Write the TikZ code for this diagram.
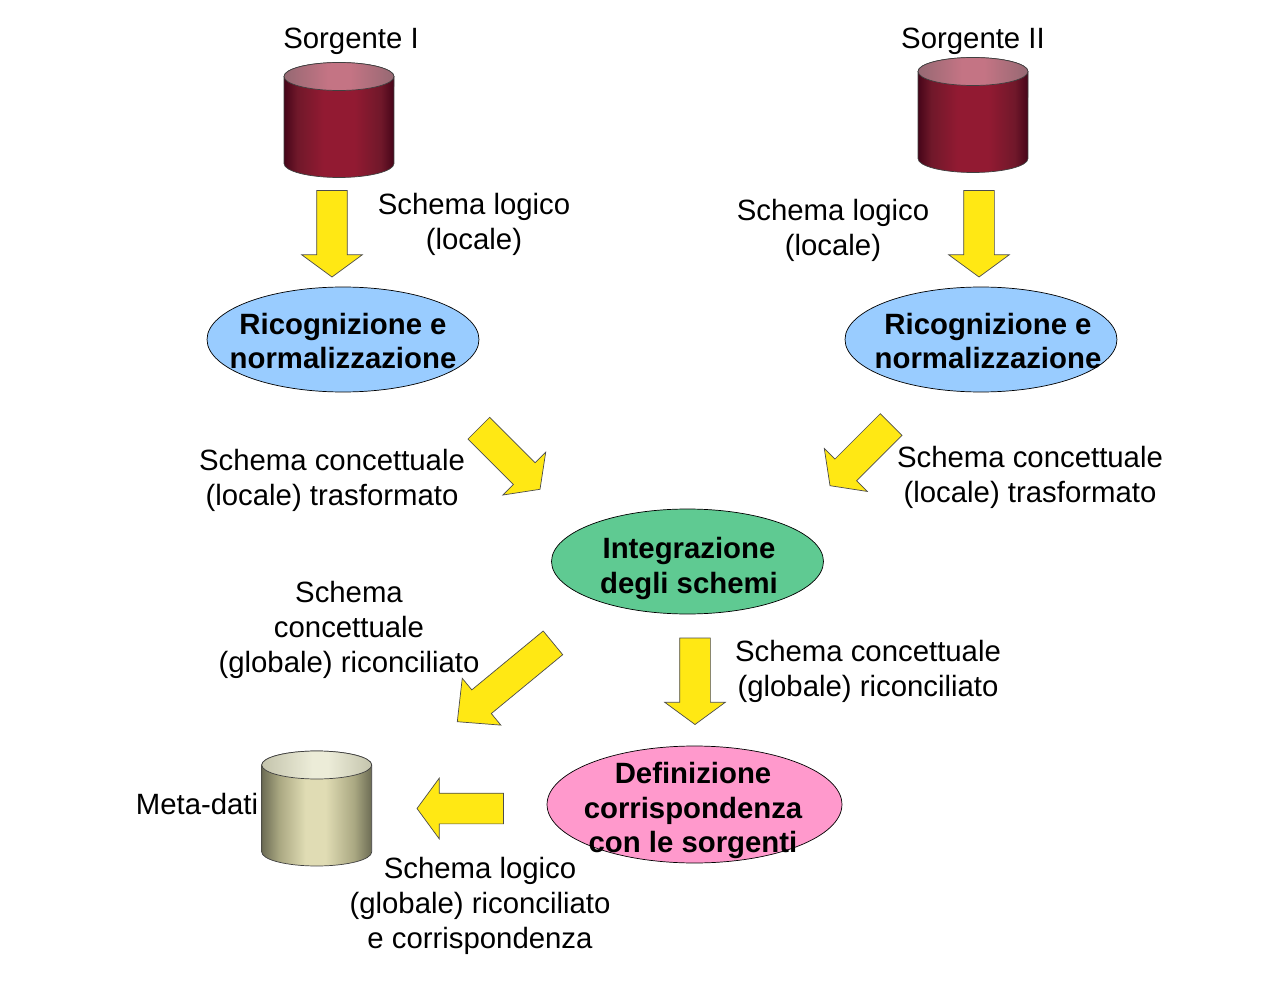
\documentclass[tikz,border=0pt]{standalone}
\usepackage{fontspec}
\setmainfont{Liberation Sans}
\usetikzlibrary{shapes.geometric,shapes.arrows}
\definecolor{procblue}{RGB}{153,204,255}
\definecolor{procgreen}{RGB}{95,202,146}
\definecolor{procpink}{RGB}{255,153,204}
\definecolor{flowyellow}{RGB}{255,232,20}
\definecolor{reddark}{RGB}{70,5,25}
\definecolor{redmid}{RGB}{112,24,42}
\definecolor{redlight}{RGB}{146,26,50}
\definecolor{rosedark}{RGB}{150,105,115}
\definecolor{roselight}{RGB}{196,116,132}
\definecolor{metadark}{RGB}{108,108,84}
\definecolor{metamid}{RGB}{170,168,130}
\definecolor{metalight}{RGB}{224,220,180}
\definecolor{capdark}{RGB}{196,196,172}
\definecolor{caplight}{RGB}{236,236,216}
\pgfdeclarehorizontalshading{srcside}{100bp}{color(0bp)=(reddark); color(25bp)=(reddark);
  color(31bp)=(redmid); color(43bp)=(redlight); color(57bp)=(redlight); color(69bp)=(redmid);
  color(75bp)=(reddark); color(100bp)=(reddark)}
\pgfdeclarehorizontalshading{srccap}{100bp}{color(0bp)=(rosedark); color(25bp)=(rosedark);
  color(45bp)=(roselight); color(55bp)=(roselight); color(75bp)=(rosedark); color(100bp)=(rosedark)}
\pgfdeclarehorizontalshading{metaside}{100bp}{color(0bp)=(metadark); color(25bp)=(metadark);
  color(33bp)=(metamid); color(45bp)=(metalight); color(54bp)=(metalight); color(67bp)=(metamid);
  color(75bp)=(metadark); color(100bp)=(metadark)}
\pgfdeclarehorizontalshading{metacap}{100bp}{color(0bp)=(capdark); color(25bp)=(capdark);
  color(48bp)=(caplight); color(55bp)=(caplight); color(75bp)=(capdark); color(100bp)=(capdark)}
\tikzset{
  proc/.style={draw=black,ellipse,inner sep=0pt,minimum width=5.44cm,minimum height=2.1cm},
  proctxt/.style={align=center,inner sep=0pt,font=\fontsize{16.7}{19.9}\selectfont\bfseries},
  lab/.style={align=center,inner sep=0pt,font=\fontsize{16.7}{19.9}\selectfont},
  flow/.style={single arrow,draw=black!70,fill=flowyellow,line width=0.4pt,anchor=tip,inner xsep=0pt,
               inner ysep=0.3cm,outer sep=0pt,minimum width=0pt,minimum height=1.73cm,
               single arrow head extend=0.3cm,single arrow tip angle=107.5},
  pics/dbcyl/.style 2 args={code={
    \path[shading=#1,draw=black!75,line width=0.4pt] (-55,0) -- ++(0,87)
      arc[start angle=180,end angle=360,x radius=1.1cm,y radius=0.28cm] -- (55,0)
      arc[start angle=0,end angle=180,x radius=1.1cm,y radius=0.28cm] -- cycle;
    \path[shading=#2,draw=black!75,line width=0.4pt] (0,0) ellipse[x radius=1.1cm,y radius=0.28cm];
  }},
}
\begin{document}
\begin{tikzpicture}[x=0.02cm,y=-0.02cm]
\useasboundingbox (0,0) rectangle (1276,990);

% ============ sources ============
\pic at (339,76.5) {dbcyl={srcside}{srccap}};
\pic at (973,71.5) {dbcyl={srcside}{srccap}};
\node[lab] (srcA) at (351,41) {Sorgente I};
\node[lab] (srcB) at (973,41) {Sorgente II};

% ============ processes, text set apart since it sits off centre ============
\node[proc,fill=procblue] (ricA) at (343,339.5) {};
\node[proctxt] (ricAt) at (343,341) {Ricognizione e\\normalizzazione};
\node[proc,fill=procblue] (ricB) at (981,339.5) {};
\node[proctxt] (ricBt) at (988,341) {Ricognizione e\\normalizzazione};
\node[proc,fill=procgreen] (integ) at (687.5,561.5) {};
\node[proctxt] (integt) at (689,568.5) {Integrazione\\degli schemi};
\node[proc,fill=procpink,minimum width=5.9cm,minimum height=2.34cm] (corr) at (694.5,804.5) {};
\node[proctxt] (corrt) at (693,810.5) {Definizione\\corrispondenza\\con le sorgenti};

% ============ block arrows, all given by their tip ============
\foreach \n/\x/\y/\r in {arrA/332/277/-90, arrB/979/277/-90, arrC/540/489.3/-45,
  arrD/830/485.7/-135, arrF/695/724.5/-90, arrG/417/808.5/180} {
  \node[flow,rotate=\r] (\n) at (\x,\y) {};
}
\node[flow,rotate=-140.5,minimum height=2.48cm,single arrow tip angle=88] (arrE) at (457.3,721.7) {};

% ============ labels ============
\node[lab] (lgA) at (474,224.5) {Schema logico\\(locale)};
\node[lab] (lgB) at (833,230.5) {Schema logico\\(locale)};
\node[lab] (ccA) at (332,480) {Schema concettuale\\(locale) trasformato};
\node[lab] (ccB) at (1030,477.5) {Schema concettuale\\(locale) trasformato};
\node[lab] (rcA) at (349,629.5) {Schema\\concettuale\\(globale) riconciliato};
\node[lab] (rcB) at (868,671.5) {Schema concettuale\\(globale) riconciliato};
\node[lab] (rlG) at (480,906) {Schema logico\\(globale) riconciliato\\e corrispondenza};

% ============ meta-data ============
\pic at (316.7,765) {dbcyl={metaside}{metacap}};
\node[lab] (meta) at (197,804) {Meta-dati};
\end{tikzpicture}
\end{document}
